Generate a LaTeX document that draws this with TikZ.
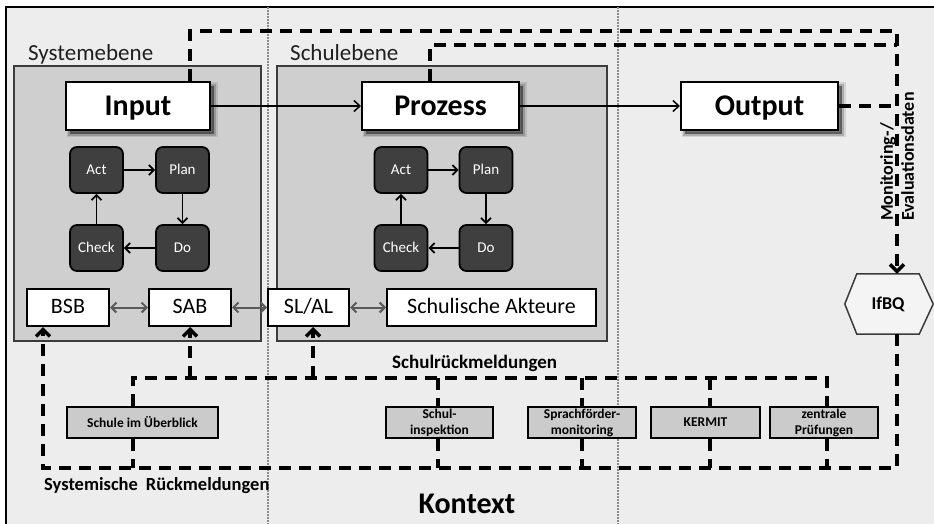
\documentclass[tikz,border=0pt]{standalone}
\usepackage{fontspec}
\setmainfont{Carlito}
\usetikzlibrary{arrows.meta,calc}

\definecolor{ctxbg}{HTML}{EDEDED}
\definecolor{levelbg}{HTML}{CFCFCF}
\definecolor{levelrule}{HTML}{3C3C3C}
\definecolor{pdcafill}{HTML}{3F3F3F}
\definecolor{probefill}{HTML}{CBCBCB}
\definecolor{linkgray}{HTML}{5A5A5A}
\definecolor{dotgray}{HTML}{8C8C8C}
\definecolor{hexfill}{HTML}{F4F4F4}

\tikzset{
  softshadow/.style={
    preaction={draw=black, line width=7, opacity=0.10,
      transform canvas={xshift=4pt, yshift=-4pt}},
    preaction={draw=black, line width=3.5, opacity=0.18,
      transform canvas={xshift=4pt, yshift=-4pt}},
    preaction={fill=black, opacity=0.45,
      transform canvas={xshift=4pt, yshift=-4pt}}},
  levelbox/.style={draw=levelrule, line width=1.5, fill=levelbg},
  stagebox/.style={softshadow, draw=black, line width=2, fill=white, minimum height=48,
    inner sep=0, text height=19.3, text depth=0,
    font=\fontsize{30}{30}\selectfont\bfseries},
  pdca/.style={draw=black, line width=1.8, fill=pdcafill, rounded corners=7,
    minimum width=53, minimum height=46, inner sep=0, text=white,
    text height=9.7, text depth=0, font=\fontsize{15}{15}\selectfont},
  actorbox/.style={draw=black, line width=2, fill=white, minimum height=37, inner sep=0,
    text height=14.2, text depth=2, font=\fontsize{22}{22}\selectfont},
  probebox/.style={draw=black, line width=2, fill=probefill, minimum height=31, inner sep=0,
    align=center, font=\fontsize{13.5}{16}\selectfont\bfseries},
  fb/.style={draw=black, line width=3.5, dash pattern=on 12pt off 8pt},
  fbtip/.style={-{Straight Barb[length=7pt,width=14pt]}},
  cyclearrow/.style={draw=black, line width=1.8, -{Straight Barb[length=5pt,width=10pt]}},
  actorlink/.style={draw=linkgray, line width=2,
    {Straight Barb[length=5pt,width=10pt]}-{Straight Barb[length=5pt,width=10pt]}},
  flow/.style={draw=black, line width=1.5, -{Straight Barb[length=6pt,width=11pt]}},
  levellabel/.style={anchor=base west, inner sep=0, text=black!88,
    font=\fontsize{23}{23}\selectfont},
  boldlabel/.style={inner sep=0, font=\fontsize{#1}{#1}\selectfont\bfseries},
}

\begin{document}
\begin{tikzpicture}[x=1pt,y=-1pt]
\useasboundingbox (0,0) rectangle (934,524);
\clip (0,0) rectangle (934,524);

% page, context frame, column separators and level panels
\fill[white] (0,0) rectangle (934,524);
\draw[fill=ctxbg, draw=black, line width=2] (6,7) rectangle (980,580);
\draw[dotgray, line width=1.6, dash pattern=on 1.6pt off 1.4pt] (268,7) -- (268,524);
\draw[dotgray, line width=1.6, dash pattern=on 1.6pt off 1.4pt] (618,7) -- (618,524);
\draw[levelbox] (14,66) rectangle (261,341);
\draw[levelbox] (277,66) rectangle (607,341);

% level titles
\node[levellabel] (systl) at (28,61) {Systemebene};
\node[levellabel] (schull) at (290,61) {Schulebene};

% input - process - output chain
\node[stagebox, minimum width=144] (inp)  at (138,106)   {Input};
\node[stagebox, minimum width=157] (proz) at (440.5,106) {Prozess};
\node[stagebox, minimum width=157] (outp) at (759.5,106) {Output};
\draw[flow] (inp.east) -- (proz.west);
\draw[flow] (proz.east) -- (outp.west);

% PDCA cycle, system level
\node[pdca] (act1)   at (96.5,170)  {Act};
\node[pdca] (plan1)  at (182.5,170) {Plan};
\node[pdca] (do1)    at (182.5,248) {Do};
\node[pdca] (check1) at (96.5,248)  {Check};
\draw[cyclearrow] (act1.east) -- (plan1.west);
\draw[cyclearrow] (plan1.south) -- (do1.north);
\draw[cyclearrow] (do1.west) -- (check1.east);
\draw[cyclearrow] (check1.north) -- (act1.south);

% PDCA cycle, school level
\node[pdca] (act2)   at (401,170) {Act};
\node[pdca] (plan2)  at (486,170) {Plan};
\node[pdca] (do2)    at (486,248) {Do};
\node[pdca] (check2) at (401,248) {Check};
\draw[cyclearrow] (act2.east) -- (plan2.west);
\draw[cyclearrow] (plan2.south) -- (do2.north);
\draw[cyclearrow] (do2.west) -- (check2.east);
\draw[cyclearrow] (check2.north) -- (act2.south);

% actors
\node[actorbox, minimum width=82]  (bsb)  at (68,307.5)    {BSB};
\node[actorbox, minimum width=82]  (sab)  at (190,307.5)   {SAB};
\node[actorbox, minimum width=81]  (slal) at (308.5,307.5) {SL/AL};
\node[actorbox, minimum width=209] (akt)  at (491.5,307.5) {Schulische Akteure};
\draw[actorlink] (bsb.east) -- (sab.west);
\draw[actorlink] (sab.east) -- (slal.west);
\draw[actorlink] (slal.east) -- (akt.west);

% evaluation instruments
\node[probebox, minimum width=151] (sib)    at (142.5,422.5) {Schule im Überblick};
\node[probebox, minimum width=107] (insp)   at (439.5,422.5) {Schul-\\inspektion};
\node[probebox, minimum width=108] (sfm)    at (582,422.5)   {Sprachförder-\\monitoring};
\node[probebox, minimum width=109] (kermit) at (705.5,422.5) {KERMIT};
\node[probebox, minimum width=108] (zp)     at (824,422.5)   {zentrale\\Prüfungen};

% institute
\node[minimum width=62, minimum height=60, inner sep=0] (ifbq) at (888,304) {};
\draw[draw=levelrule, line width=1.5, fill=hexfill]
  (ifbq.north west) -- (ifbq.north east) -- ($(ifbq.east)+(14,0)$) --
  (ifbq.south east) -- (ifbq.south west) -- ($(ifbq.west)+(-12,0)$) -- cycle;
\node[boldlabel=18] (ifbqtxt) at (ifbq.center) {IfBQ};

% feedback routes
\coordinate (mtop) at (897,31);
\coordinate (mmid) at (897,45);
\coordinate (busL) at (43,468);
\coordinate (busR) at (897,468);
\coordinate (fbL)  at (133,378);
\coordinate (fbR)  at (827,378);
\coordinate (inspx)   at ($(insp.center)+(-1.5,0)$);
\coordinate (kermitx) at ($(kermit.center)+(4.5,0)$);
\coordinate (slalx)   at ($(slal.south)+(4.5,0)$);

\draw[fb, fbtip] ($(inp.north)+(52,0)$) |- (mtop) -- (mtop |- ifbq.north);
\draw[fb] ($(proz.north)+(-10.5,0)$) |- (mmid);
\draw[fb] (outp.east) -- (outp.east -| mtop);
\draw[fb, fbtip] (mtop |- ifbq.south) -- (busR) -- (busL) -- (busL |- bsb.south);
% school feedback bus with its drops through the instruments
\draw[fb] (fbL |- sib.north) -- (fbL) -- (fbR) -- (fbR |- zp.north);
\draw[fb] (fbL |- sib.south) -- (fbL |- busL);
\draw[fb] (fbR |- zp.south) -- (fbR |- busL);
\draw[fb] (inspx |- fbL) -- (inspx |- insp.north);
\draw[fb] (inspx |- insp.south) -- (inspx |- busL);
\draw[fb] (sfm.center |- fbL) -- (sfm.north);
\draw[fb] (sfm.south) -- (sfm.center |- busL);
\draw[fb] (kermitx |- fbL) -- (kermitx |- kermit.north);
\draw[fb] (kermitx |- kermit.south) -- (kermitx |- busL);
\draw[fb, fbtip] (sab.south |- fbL) -- (sab.south);
\draw[fb, fbtip] (slalx |- fbL) -- (slalx);

% labels
\node[boldlabel=18, rotate=90, anchor=west, align=left,
      font=\fontsize{18}{21}\selectfont\bfseries] (mon) at (897,221)
      {Monitoring-/\\Evaluationsdaten};
\node[boldlabel=19, anchor=base west] (schrm) at (392,368) {Schulrückmeldungen};
\node[boldlabel=18.5, anchor=base west] (sysrm) at (44,490) {Systemische\hspace{8pt}Rückmeldungen};
\node[boldlabel=30, anchor=base] (kontext) at (467,513) {Kontext};
\end{tikzpicture}
\end{document}
